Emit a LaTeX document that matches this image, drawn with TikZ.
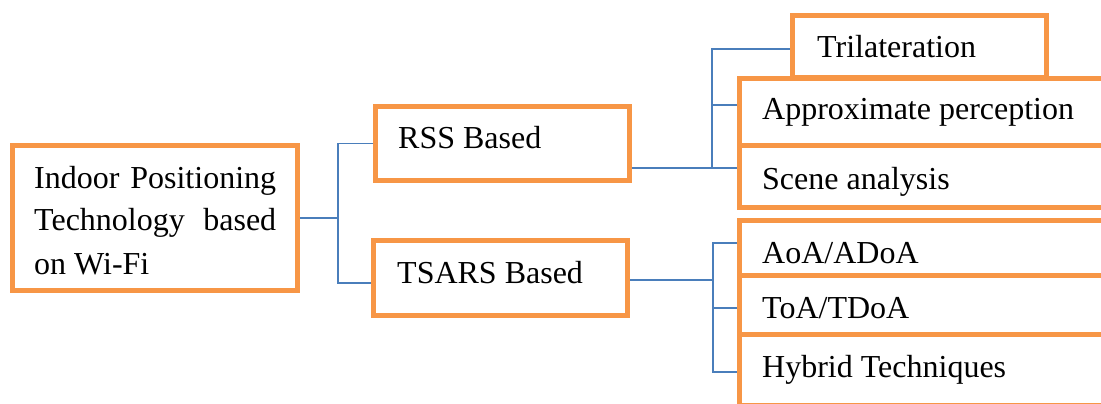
\documentclass[tikz,border=0pt]{standalone}
\usepackage{fontspec}
\setmainfont{Liberation Serif}
\definecolor{boxorange}{HTML}{F79646}
\definecolor{linkblue}{HTML}{4A7EBB}
\tikzset{
  box/.style={draw=boxorange, line width=5pt, rectangle, inner sep=0pt},
  lbl/.style={anchor=base west, inner sep=0pt, font=\fontsize{32}{43}\selectfont},
  link/.style={draw=linkblue, line width=1.6pt}
}
\begin{document}
\begin{tikzpicture}[x=1pt,y=-1pt]
\useasboundingbox (0,0) rectangle (1101,404);
\fill[white] (0,0) rectangle (1101,404);
\clip (0,0) rectangle (1101,404);
% boxes
\node[box, minimum width=285pt, minimum height=145pt] (root) at (155,218) {};
\node[box, minimum width=254pt, minimum height=74pt] (rss) at (502.5,143.5) {};
\node[box, minimum width=254pt, minimum height=75pt] (tsars) at (500.5,278) {};
\node[box, minimum width=254pt, minimum height=62.5pt] (tri) at (919.5,46.75) {};
\node[box, minimum width=410.5pt, minimum height=66.5pt] (approx) at (944.75,111.75) {};
\node[box, minimum width=410.5pt, minimum height=62pt] (scene) at (944.75,176) {};
\node[box, minimum width=410.5pt, minimum height=55pt] (aoa) at (944.75,248) {};
\node[box, minimum width=410.5pt, minimum height=59pt] (toa) at (944.75,305) {};
\node[box, minimum width=410.5pt, minimum height=71pt] (hybrid) at (944.75,370) {};
% connectors
\coordinate (j1) at (338,218);
\draw[link] (root.east) -- (j1);
\draw[link] (rss.west) -| (j1) |- ([yshift=-5pt]tsars.west);
\coordinate (j2) at (712,168);
\draw[link] ([yshift=-24.5pt]rss.east) -- ([yshift=8pt]scene.west);
\draw[link] (j2) |- ([yshift=-2.25pt]tri.west);
\path ([yshift=6.75pt]approx.west) coordinate (a2);
\draw[link] (a2) -- (a2 -| j2);
\coordinate (j3) at (713,280);
\draw[link] ([yshift=-2pt]tsars.east) -- (j3);
\draw[link] ([yshift=5pt]aoa.west) -| (j3) |- ([yshift=-2pt]hybrid.west);
\path ([yshift=-3pt]toa.west) coordinate (b2);
\draw[link] (b2) -- (b2 -| j3);
% texts
\node[lbl] (troot1) at (34,188) {\makebox[242pt][s]{Indoor Positioning}};
\node[lbl] (troot2) at (34,230) {\makebox[242pt][s]{Technology based}};
\node[lbl] (troot3) at (34,274) {on Wi-Fi};
\node[lbl] (trss) at (398,148) {RSS Based};
\node[lbl] (ttsars) at (397,283) {TSARS Based};
\node[lbl] (ttri) at (817,58) {Trilateration};
\node[lbl] (tapprox) at (762,120) {Approximate perception};
\node[lbl] (tscene) at (762,189) {Scene analysis};
\node[lbl] (taoa) at (762,263) {AoA/ADoA};
\node[lbl] (ttoa) at (762,318) {ToA/TDoA};
\node[lbl] (thybrid) at (762,377) {Hybrid Techniques};
\end{tikzpicture}
\end{document}
